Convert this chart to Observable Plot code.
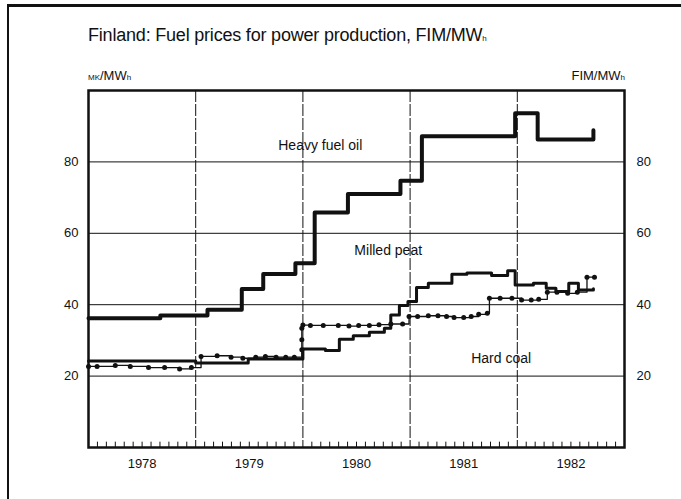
<!DOCTYPE html>
<html>
<head>
<meta charset="utf-8">
<script src="https://cdn.jsdelivr.net/npm/d3@7"></script>
<script src="https://cdn.jsdelivr.net/npm/@observablehq/plot@0.6"></script>
<style>
  html, body { margin: 0; padding: 0; background: #fff; }
  body { width: 681px; height: 499px; position: relative; overflow: hidden; font-family: "Liberation Sans", Arial, sans-serif; color: #111; }
  #page { position: absolute; left: 7px; top: 4px; width: 680px; height: 500px; border-top: 3px solid #111; border-left: 2px solid #111; }
  #title { position: absolute; left: 88px; top: 26px; font-size: 18px; line-height: 18px; white-space: nowrap; letter-spacing: -0.2px; }
  .unit { position: absolute; top: 69px; font-size: 13px; line-height: 13px; white-space: nowrap; }
  #unitL { left: 88px; }
  #unitR { right: 56px; }
  .sm { font-size: 8px; }
  sub { font-size: 8px; vertical-align: baseline; }
  #chart { position: absolute; left: 0; top: 85px; }
</style>
</head>
<body>
<div id="page"></div>
<div id="title">Finland: Fuel prices for power production, FIM/MW<sub>h</sub></div>
<div class="unit" id="unitL"><span class="sm">MK</span>/MW<sub>h</sub></div>
<div class="unit" id="unitR">FIM/MW<sub>h</sub></div>
<div id="chart"></div>
<script>
// ---- data (FIM/MWh), time as decimal year ----
const years = [1978, 1979, 1980, 1981, 1982];
const yTicks = [20, 40, 60, 80];

const oilT = [1978.0, 1978.67, 1979.11, 1979.43, 1979.63, 1979.93, 1980.11, 1980.42, 1980.91, 1981.11, 1981.98, 1982.19, 1982.69, 1982.71];
const oilV = [36.2, 37.0, 38.6, 44.4, 48.6, 51.6, 65.8, 71.0, 74.7, 87.2, 93.6, 86.3, 86.3, 88.9];

const peatT = [1978.0, 1979.0, 1979.49, 1980.0, 1980.21, 1980.34, 1980.47, 1980.62, 1980.76, 1980.82, 1980.9, 1980.98, 1981.06, 1981.17, 1981.39, 1981.53, 1981.76, 1981.91, 1981.98, 1982.15, 1982.27, 1982.36, 1982.48, 1982.57, 1982.71];
const peatV = [24.2, 23.7, 24.8, 27.6, 27.2, 30.3, 31.3, 32.3, 33.4, 37.1, 39.8, 40.9, 44.8, 46.0, 48.5, 48.9, 48.2, 49.5, 45.5, 46.0, 44.6, 43.7, 46.0, 44.1, 44.5];

const coalT = [1978.0, 1978.08, 1978.25, 1978.39, 1978.56, 1978.71, 1978.85, 1978.96,
  1979.05, 1979.2, 1979.33, 1979.44, 1979.56, 1979.65, 1979.75, 1979.84, 1979.92,
  1979.99, 1979.99, 1979.99, 1980.0,
  1980.07, 1980.19, 1980.33, 1980.43, 1980.52, 1980.62, 1980.71, 1980.82, 1980.93,
  1980.99, 1981.07, 1981.17, 1981.26, 1981.34, 1981.41, 1981.5, 1981.57, 1981.64, 1981.72,
  1981.74, 1981.84, 1981.95, 1982.04, 1982.13, 1982.2,
  1982.28, 1982.37, 1982.47, 1982.56, 1982.65, 1982.72];
const coalV = [22.7, 22.7, 23.0, 22.7, 22.4, 22.4, 22.0, 22.4,
  25.5, 25.7, 25.3, 25.0, 25.3, 25.5, 25.3, 25.3, 25.3,
  27.4, 30.2, 33.4, 34.3,
  34.2, 34.2, 34.2, 34.0, 34.2, 34.2, 34.4, 34.6, 34.6,
  36.7, 36.7, 36.9, 36.9, 36.7, 36.4, 36.4, 36.7, 37.3, 37.6,
  41.8, 41.8, 41.8, 41.3, 41.3, 41.5,
  43.5, 43.5, 43.2, 43.5, 47.7, 47.7];

const seriesLabels = ["Heavy fuel oil", "Milled peat", "Hard coal"];
const labelT = [1979.77, 1980.48, 1981.57];
const labelV = [84.6, 55.2, 25.0];

// ---- build tables ----
const oil = oilT.map((t, i) => ({t, v: oilV[i]}));
const peat = peatT.map((t, i) => ({t, v: peatV[i]}));
const coal = coalT.map((t, i) => ({t, v: coalV[i]}));
const labels = seriesLabels.map((s, i) => ({s, t: labelT[i], v: labelV[i]}));
const yearMid = years.map(y => y + 0.5);
const months = d3.range(years[0] * 12 + 1, (years[years.length - 1] + 1) * 12).map(m => m / 12).filter(m => !years.includes(m));
const innerYears = years.slice(1);

const ink = "#111";
const chart = Plot.plot({
  width: 681,
  height: 414,
  marginTop: 5,
  marginBottom: 52,
  marginLeft: 88,
  marginRight: 57,
  style: {fontFamily: "'Liberation Sans', Arial, sans-serif", fontSize: "13px", color: ink, background: "transparent"},
  x: {domain: [1978, 1983], axis: null},
  y: {domain: [0, 100], axis: null},
  marks: [
    Plot.ruleY(yTicks, {stroke: ink, strokeWidth: 1}),
    Plot.ruleX(innerYears, {stroke: ink, strokeWidth: 1, strokeDasharray: "12,2"}),
    Plot.ruleX(months, {y1: 0, y2: 1.5, stroke: ink, strokeWidth: 1}),
    Plot.axisY({ticks: yTicks, anchor: "left", tickSize: 0, tickPadding: 10, fontSize: 13, label: null}),
    Plot.axisY({ticks: yTicks, anchor: "right", tickSize: 0, tickPadding: 12, fontSize: 13, label: null}),
    Plot.axisX({ticks: yearMid, tickFormat: d => String(Math.floor(d)), tickSize: 0, tickPadding: 11, fontSize: 13, label: null}),
    Plot.frame({stroke: ink, strokeWidth: 2.5}),
    Plot.line(coal, {x: "t", y: "v", curve: "step-after", stroke: ink, strokeWidth: 1.3}),
    Plot.dot(coal, {x: "t", y: "v", r: 2.5, fill: ink, stroke: "none"}),
    Plot.line(peat, {x: "t", y: "v", curve: "step-after", stroke: ink, strokeWidth: 3}),
    Plot.line(oil, {x: "t", y: "v", curve: "step-after", stroke: ink, strokeWidth: 4}),
    Plot.text(labels, {x: "t", y: "v", text: "s", textAnchor: "start", fontSize: 14, fill: ink})
  ]
});
document.getElementById("chart").appendChild(chart);
</script>
</body>
</html>
